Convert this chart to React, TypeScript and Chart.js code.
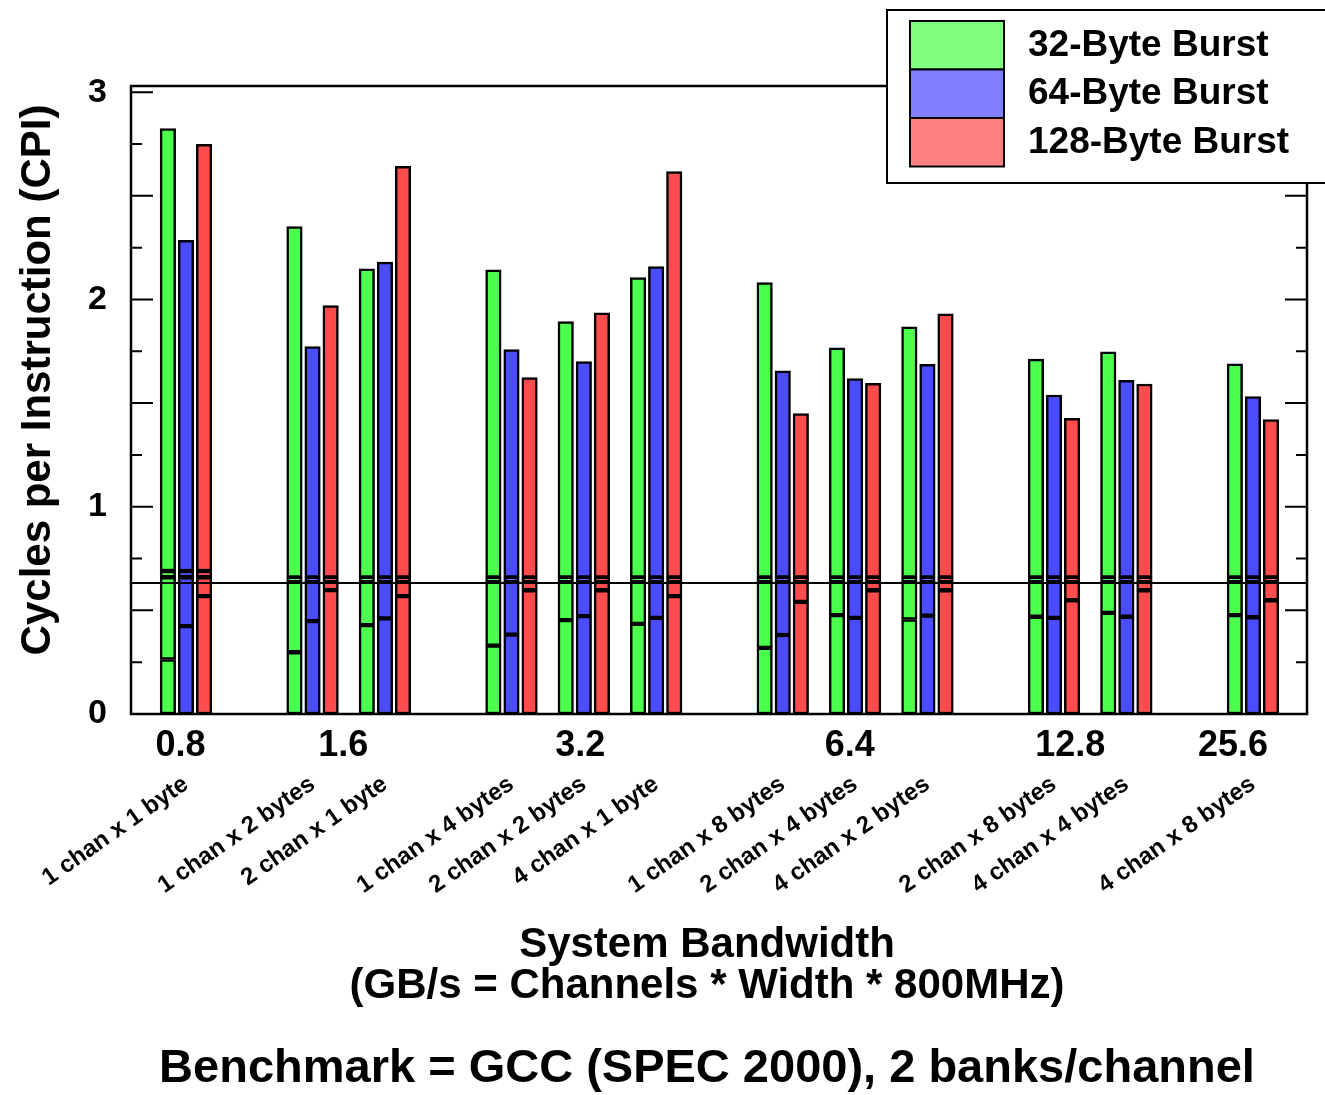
import React, { useEffect, useRef } from 'react';
import { Chart, registerables } from 'chart.js';

Chart.register(...registerables);

// ---------- data ----------
const seriesNames = ['32-Byte Burst', '64-Byte Burst', '128-Byte Burst'];

const configLabels = [
  '1 chan x 1 byte',
  '1 chan x 2 bytes',
  '2 chan x 1 byte',
  '1 chan x 4 bytes',
  '2 chan x 2 bytes',
  '4 chan x 1 byte',
  '1 chan x 8 bytes',
  '2 chan x 4 bytes',
  '4 chan x 2 bytes',
  '2 chan x 8 bytes',
  '4 chan x 4 bytes',
  '4 chan x 8 bytes',
];
// position of each configuration group on the x axis (in bar slots)
const configPos = [0, 7, 11, 18, 22, 26, 33, 37, 41, 48, 52, 59];

const bandwidthLabels = ['0.8', '1.6', '3.2', '6.4', '12.8', '25.6'];
const bandwidthPos = [-0.3, 8.7, 21.8, 36.7, 48.9, 57.9];

const yTickValues = [0, 1, 2, 3];
const yMinorStep = 0.25;
const yMax = 3.03;
const baselineCPI = 0.632;

// Segment boundaries inside each bar
const low32 = [0.263, 0.298, 0.429, 0.33, 0.453, 0.435, 0.319, 0.477, 0.456, 0.469, 0.488, 0.477];
const low64 = [0.424, 0.448, 0.461, 0.383, 0.472, 0.464, 0.381, 0.464, 0.475, 0.464, 0.469, 0.467];
const low128 = [0.569, 0.598, 0.569, 0.597, 0.597, 0.569, 0.541, 0.597, 0.597, 0.549, 0.597, 0.549];

const bandLow = [0.66, 0.64, 0.64, 0.64, 0.64, 0.64, 0.64, 0.64, 0.64, 0.64, 0.64, 0.64];
const bandHigh = [0.69, 0.659, 0.659, 0.659, 0.659, 0.659, 0.659, 0.659, 0.659, 0.659, 0.659, 0.659];

const top32 = [2.824, 2.352, 2.148, 2.143, 1.893, 2.106, 2.081, 1.767, 1.868, 1.712, 1.748, 1.69];
const top64 = [2.285, 1.773, 2.18, 1.758, 1.7, 2.159, 1.656, 1.618, 1.687, 1.539, 1.61, 1.531];
const top128 = [2.748, 1.971, 2.642, 1.623, 1.936, 2.617, 1.449, 1.595, 1.931, 1.426, 1.592, 1.421];

const seriesLow = [low32, low64, low128];
const seriesTop = [top32, top64, top128];
const seriesOffset = [-1, 0, 1];

// ---------- styles ----------
const barColors = ['#4cff4c', '#4c4cff', '#ff4c4c'];
const legendColors = ['#80ff80', '#8080ff', '#ff8080'];
const FONT = '"Liberation Sans", Arial, Helvetica, sans-serif';

function buildDatasets() {
  const ds: any[] = [];
  seriesNames.forEach((name, s) => {
    const low = seriesLow[s];
    const top = seriesTop[s];
    const segments = [
      configPos.map((_, i) => [0, low[i]]),
      configPos.map((_, i) => [low[i], bandLow[i]]),
      configPos.map((_, i) => [bandLow[i], bandHigh[i]]),
      configPos.map((_, i) => [bandHigh[i], top[i]]),
    ];
    segments.forEach((seg, k) => {
      ds.push({
        label: k === 0 ? name : name + ' (' + k + ')',
        data: configPos.map((c, i) => ({ x: c + seriesOffset[s], y: seg[i] })),
        backgroundColor: barColors[s],
        borderColor: '#000',
        borderWidth: 2.5,
        borderSkipped: false,
        barThickness: 15.5,
        grouped: false,
      });
    });
  });
  return ds;
}

const overlayPlugin = {
  id: 'overlay',
  afterDatasetsDraw(chart: any) {
    const { ctx, chartArea: a, scales } = chart;
    const y = scales.y;
    ctx.save();
    ctx.strokeStyle = '#000';
    ctx.lineWidth = 2;
    // reference line
    const by = y.getPixelForValue(baselineCPI);
    ctx.beginPath();
    ctx.moveTo(a.left, by);
    ctx.lineTo(a.right, by);
    ctx.stroke();
    // inward ticks on both sides
    for (let k = 0; k * yMinorStep <= yMax + 1e-9; k++) {
      const v = k * yMinorStep;
      const py = y.getPixelForValue(v);
      const len = k % 2 === 0 ? 22 : 11;
      ctx.beginPath();
      ctx.moveTo(a.left, py);
      ctx.lineTo(a.left + len, py);
      ctx.moveTo(a.right - len, py);
      ctx.lineTo(a.right, py);
      ctx.stroke();
    }
    // frame
    ctx.lineWidth = 2.5;
    ctx.strokeRect(a.left, a.top, a.right - a.left, a.bottom - a.top);
    ctx.restore();
  },
  afterDraw(chart: any) {
    const { ctx } = chart;
    ctx.save();
    ctx.fillStyle = '#000';
    // y title
    ctx.save();
    ctx.translate(50, 380);
    ctx.rotate(-Math.PI / 2);
    ctx.font = 'bold 42px ' + FONT;
    ctx.textAlign = 'center';
    ctx.textBaseline = 'alphabetic';
    ctx.fillText('Cycles per Instruction (CPI)', 0, 0);
    ctx.restore();
    // x title
    ctx.textAlign = 'center';
    ctx.textBaseline = 'alphabetic';
    ctx.font = 'bold 42px ' + FONT;
    ctx.fillText('System Bandwidth', 707, 957);
    ctx.fillText('(GB/s = Channels * Width * 800MHz)', 707, 998);
    ctx.font = 'bold 47px ' + FONT;
    ctx.fillText('Benchmark = GCC (SPEC 2000), 2 banks/channel', 707, 1082);

    // legend
    ctx.fillStyle = '#fff';
    ctx.fillRect(887, 10, 460, 173);
    ctx.strokeStyle = '#000';
    ctx.lineWidth = 2;
    ctx.strokeRect(887, 10, 460, 173);
    const rowTop = [21, 69.5, 118];
    const rowH = 48.5;
    seriesNames.forEach((name, i) => {
      ctx.fillStyle = legendColors[i];
      ctx.fillRect(910, rowTop[i], 94, rowH);
      ctx.strokeRect(910, rowTop[i], 94, rowH);
      ctx.fillStyle = '#000';
      ctx.font = 'bold 37px ' + FONT;
      ctx.textAlign = 'left';
      ctx.textBaseline = 'alphabetic';
      ctx.fillText(name, 1028, rowTop[i] + 34.5);
    });
    ctx.restore();
  },
};

export default function App() {
  const ref = useRef<HTMLCanvasElement | null>(null);

  useEffect(() => {
    if (!ref.current) return;
    const chart = new Chart(ref.current, {
      type: 'bar',
      data: { datasets: buildDatasets() },
      options: {
        responsive: false,
        animation: false,
        layout: { padding: { top: 86, right: 18, left: 0, bottom: 0 } },
        plugins: {
          legend: { display: false },
          tooltip: { enabled: false },
          title: { display: false },
        },
        scales: {
          x: {
            type: 'linear',
            position: 'bottom',
            offset: false,
            min: -3.04,
            max: 61.99,
            grid: { display: false, drawTicks: false },
            border: { display: false },
            afterBuildTicks: (scale: any) => {
              scale.ticks = bandwidthPos.map((v) => ({ value: v }));
            },
            afterFit: (scale: any) => {
              scale.height = 50;
            },
            ticks: {
              autoSkip: false,
              maxRotation: 0,
              minRotation: 0,
              padding: 10,
              color: '#000',
              font: { family: FONT, size: 36, weight: 'bold' },
              callback: (_v: any, i: number) => bandwidthLabels[i],
            },
          },
          x2: {
            type: 'linear',
            position: 'bottom',
            offset: false,
            min: -3.04,
            max: 61.99,
            grid: { display: false, drawTicks: false },
            border: { display: false },
            afterBuildTicks: (scale: any) => {
              scale.ticks = configPos.map((v) => ({ value: v }));
            },
            afterFit: (scale: any) => {
              scale.height = 331;
            },
            ticks: {
              autoSkip: false,
              maxRotation: 35,
              minRotation: 35,
              padding: 6,
              color: '#000',
              font: { family: FONT, size: 24, weight: 'bold' },
              callback: (_v: any, i: number) => configLabels[i],
            },
          },
          y: {
            type: 'linear',
            min: 0,
            max: yMax,
            grid: { display: false, drawTicks: false },
            border: { display: false },
            afterBuildTicks: (scale: any) => {
              scale.ticks = yTickValues.map((v) => ({ value: v }));
            },
            afterFit: (scale: any) => {
              scale.width = 131;
            },
            ticks: {
              padding: 24,
              color: '#000',
              font: { family: FONT, size: 34, weight: 'bold' },
              callback: (v: any) => String(v),
            },
          },
        },
      } as any,
      plugins: [overlayPlugin],
    });
    return () => chart.destroy();
  }, []);

  return (
    <canvas
      ref={ref}
      width={1325}
      height={1095}
      style={{ position: 'absolute', left: 0, top: 0, width: 1325, height: 1095, background: '#fff' }}
    />
  );
}
